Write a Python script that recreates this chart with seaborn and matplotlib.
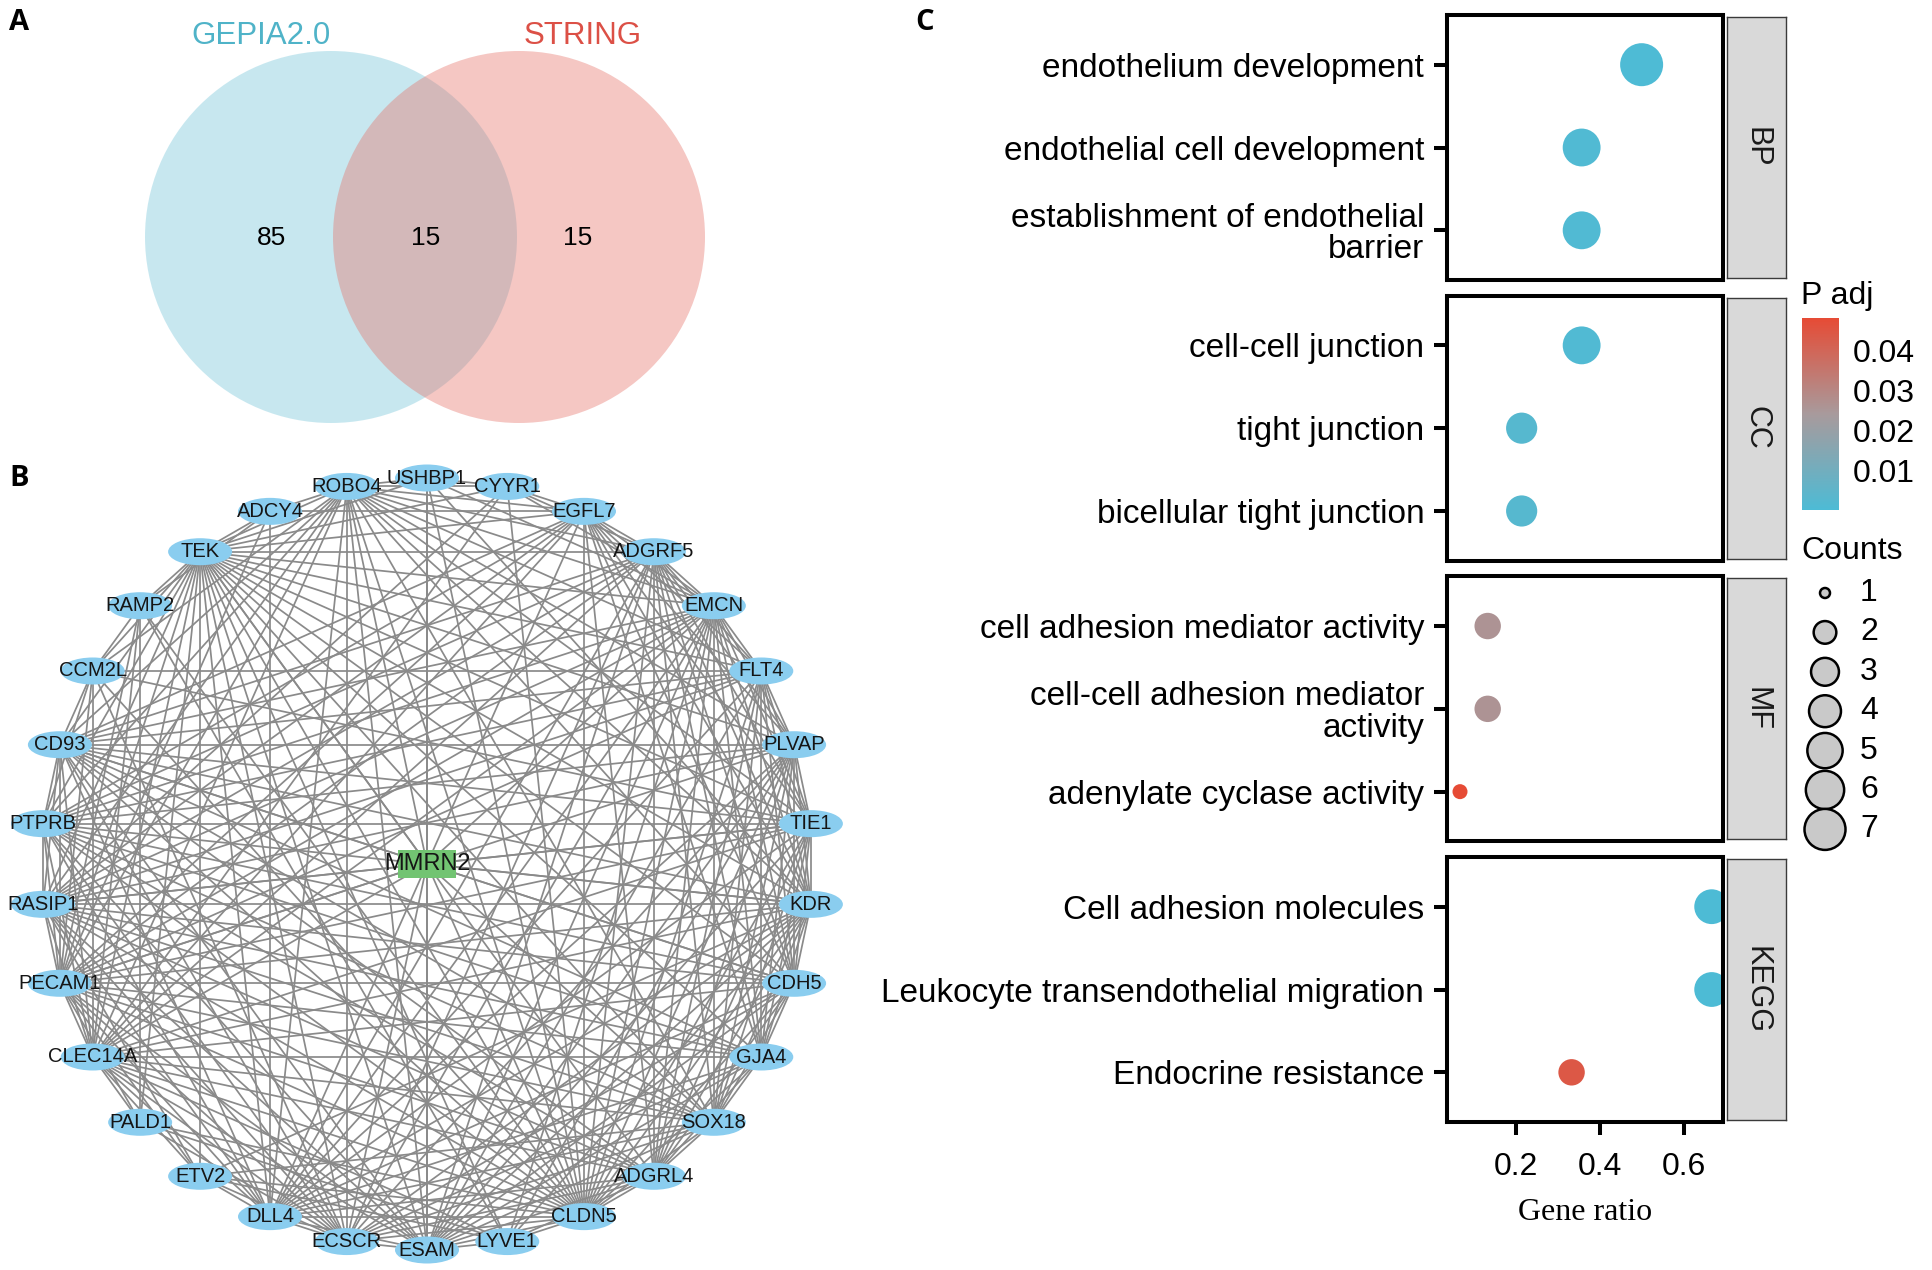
import numpy as np
import pandas as pd
import matplotlib
matplotlib.use('Agg')
import matplotlib.pyplot as plt
import seaborn as sns
from matplotlib.patches import Circle, Ellipse, Rectangle
from matplotlib.collections import LineCollection
from matplotlib.colors import LinearSegmentedColormap, Normalize
from matplotlib.cm import ScalarMappable

# ── DATA ───────────────────────────────────────────────────────
# A: Venn
venn_names = ['GEPIA2.0', 'STRING']
venn_counts = [85, 15, 15]          # GEPIA only, both, STRING only

# B: PPI network (hub + ring genes, counter-clockwise from the top)
hub_gene = 'MMRN2'
ring_genes = ['USHBP1', 'ROBO4', 'ADCY4', 'TEK', 'RAMP2', 'CCM2L', 'CD93', 'PTPRB',
              'RASIP1', 'PECAM1', 'CLEC14A', 'PALD1', 'ETV2', 'DLL4', 'ECSCR', 'ESAM',
              'LYVE1', 'CLDN5', 'ADGRL4', 'SOX18', 'GJA4', 'CDH5', 'KDR', 'TIE1',
              'PLVAP', 'FLT4', 'EMCN', 'ADGRF5', 'EGFL7', 'CYYR1']
links = {
    'TEK': 'ROBO4 USHBP1 CYYR1 EGFL7 ADGRF5 EMCN FLT4 PLVAP TIE1 KDR CDH5 GJA4 SOX18 ADGRL4 '
           'CLDN5 LYVE1 ESAM ECSCR DLL4 ETV2 PALD1 CLEC14A PECAM1 RASIP1 PTPRB CD93 CCM2L RAMP2 ADCY4',
    'ROBO4': 'USHBP1 CYYR1 EGFL7 ADGRF5 EMCN FLT4 PLVAP TIE1 KDR CDH5 SOX18 CLDN5 ESAM ECSCR '
             'DLL4 CLEC14A PECAM1 RASIP1 PTPRB CD93 CCM2L ADCY4',
    'EMCN': 'ADGRF5 EGFL7 CYYR1 USHBP1 FLT4 PLVAP TIE1 KDR CDH5 GJA4 SOX18 ADGRL4 CLDN5 LYVE1 '
            'ESAM ECSCR DLL4 PECAM1 RASIP1 PTPRB CD93 CLEC14A',
    'CLDN5': 'ADGRL4 SOX18 GJA4 CDH5 KDR TIE1 PLVAP FLT4 ADGRF5 EGFL7 CYYR1 USHBP1 ESAM LYVE1 '
             'ECSCR DLL4 ETV2 PALD1 CLEC14A PECAM1 RASIP1 PTPRB CD93 CCM2L RAMP2',
    'PECAM1': 'CDH5 KDR TIE1 PLVAP FLT4 GJA4 SOX18 ADGRL4 ESAM ECSCR DLL4 ETV2 PALD1 CLEC14A '
              'RASIP1 PTPRB CD93 CCM2L RAMP2 ADCY4 EGFL7 ADGRF5',
    'CLEC14A': 'GJA4 SOX18 ADGRL4 CDH5 KDR TIE1 ESAM LYVE1 ECSCR DLL4 ETV2 PALD1 RASIP1 PTPRB '
               'CD93 CCM2L RAMP2 EGFL7 ADGRF5 CYYR1',
    'KDR': 'CDH5 TIE1 PLVAP FLT4 GJA4 SOX18 ADGRL4 ESAM LYVE1 ECSCR DLL4 ETV2 RASIP1 PTPRB CD93 '
           'ADGRF5 EGFL7 USHBP1',
    'CDH5': 'TIE1 PLVAP FLT4 GJA4 SOX18 ESAM ECSCR DLL4 RASIP1 PTPRB CD93 ADGRF5 EGFL7 ADGRL4',
    'TIE1': 'PLVAP FLT4 GJA4 SOX18 ADGRL4 ESAM DLL4 RASIP1 PTPRB CD93 CCM2L EGFL7 ADGRF5',
    'SOX18': 'GJA4 ADGRL4 ESAM ECSCR DLL4 ETV2 FLT4 PLVAP ADGRF5 RASIP1 PTPRB CD93',
    'FLT4': 'PLVAP GJA4 ADGRL4 ESAM DLL4 RASIP1 PTPRB CD93 ADGRF5 EGFL7 CCM2L',
    'ESAM': 'ECSCR DLL4 LYVE1 ADGRL4 GJA4 PLVAP RASIP1 PTPRB CD93 USHBP1 ADGRF5',
    'RASIP1': 'PTPRB CD93 DLL4 ETV2 ECSCR GJA4 ADGRL4 PLVAP ADGRF5 EGFL7 CYYR1',
    'PTPRB': 'CD93 DLL4 ECSCR GJA4 ADGRL4 PLVAP ADGRF5 EGFL7 CCM2L',
    'ADGRF5': 'EGFL7 ADGRL4 GJA4 PLVAP DLL4 ECSCR CD93 CYYR1',
    'ADGRL4': 'GJA4 PLVAP DLL4 ECSCR LYVE1 CD93 EGFL7',
    'GJA4': 'PLVAP DLL4 ECSCR CD93 EGFL7',
    'DLL4': 'ECSCR ETV2 CD93 PLVAP EGFL7 ADCY4',
    'CD93': 'CCM2L PLVAP EGFL7 ECSCR',
    'EGFL7': 'CYYR1 ADCY4 PLVAP',
    'ECSCR': 'ETV2 PALD1 PLVAP CCM2L',
    'LYVE1': 'PLVAP PALD1 ETV2 RAMP2',
    'USHBP1': 'CYYR1 ESAM',
    'ADCY4': 'EGFL7 RAMP2',
    'RAMP2': 'CCM2L PALD1',
    'MMRN2': 'USHBP1 ROBO4 TEK EMCN CLDN5 PECAM1 CLEC14A KDR CDH5 ESAM TIE1 SOX18 ECSCR CD93 RASIP1',
}

# C: enrichment dot plot
terms = ['endothelium development', 'endothelial cell development',
         'establishment of endothelial\nbarrier',
         'cell-cell junction', 'tight junction', 'bicellular tight junction',
         'cell adhesion mediator activity', 'cell-cell adhesion mediator\nactivity',
         'adenylate cyclase activity',
         'Cell adhesion molecules', 'Leukocyte transendothelial migration',
         'Endocrine resistance']
ontology = ['BP'] * 3 + ['CC'] * 3 + ['MF'] * 3 + ['KEGG'] * 3
gene_ratio = [0.500, 0.357, 0.357, 0.357, 0.214, 0.214, 0.133, 0.133, 0.067, 0.667, 0.667, 0.333]
counts = [7, 5, 5, 5, 3, 3, 2, 2, 1, 4, 4, 2]
p_adj = [0.0002, 0.001, 0.001, 0.001, 0.0025, 0.0025, 0.026, 0.026, 0.048, 0.00001, 0.00001, 0.044]
legend_counts = [1, 2, 3, 4, 5, 6, 7]
cbar_ticks = [0.01, 0.02, 0.03, 0.04]

# ── STYLE ─────────────────────────────────────────────────────
sns.set_theme(style='white')
plt.rcParams['font.family'] = ['Liberation Sans', 'DejaVu Sans']
for k in ['text.color', 'axes.labelcolor', 'xtick.color', 'ytick.color']:
    plt.rcParams[k] = 'black'

W, H = 1932, 1270
fig = plt.figure(figsize=(W / 100, H / 100), dpi=100)
base = fig.add_axes([0, 0, 1, 1])
base.axis('off')

for letter, (lx, ly) in zip('ABC', [(19, 22), (19, 478), (925, 22)]):
    base.text(lx, ly, letter, fontsize=21, fontweight='bold', ha='center', va='center',
              family=['Open Sans', 'DejaVu Sans'])

# ── A. VENN ───────────────────────────────────────────────────
r, cy = 186, 237
centers = [331, 519]
for cx, col in zip(centers, ['#75C5D9', '#E6736A']):
    base.add_patch(Circle((cx, cy), r, facecolor=col, alpha=0.4, edgecolor='none', zorder=1))
for name, lx, col in zip(venn_names, [261, 583], ['#4FB3C8', '#DC5046']):
    base.text(lx, 36, name, fontsize=22.5, color=col, ha='center', va='center')
for n, lx in zip(venn_counts, [272, 426, 578]):
    base.text(lx, 238, str(n), fontsize=19, ha='center', va='center')

# ── B. NETWORK ────────────────────────────────────────────────
ncx, ncy, R = 427, 864, 386
ang = np.deg2rad(90 + 360 / len(ring_genes) * np.arange(len(ring_genes)))
pos = {g: (ncx + R * np.cos(a), ncy - R * np.sin(a)) for g, a in zip(ring_genes, ang)}
pos[hub_gene] = (ncx, ncy)

edges = set()
for g, nb in links.items():
    for h in nb.split():
        if h != g:
            edges.add(tuple(sorted((g, h))))
segs = [[pos[a], pos[b]] for a, b in sorted(edges)]
base.add_collection(LineCollection(segs, colors='#8A8A8A', linewidths=1.25, zorder=2))

for g in ring_genes:
    x, y = pos[g]
    base.add_patch(Ellipse((x, y), 64, 27, facecolor='#8ACDEF', edgecolor='none', zorder=3))
    base.text(x, y, g, fontsize=14.5, ha='center', va='center', color='#151515', zorder=4)
base.add_patch(Rectangle((ncx - 29, ncy - 14), 58, 28, facecolor='#72C472', edgecolor='none', zorder=3))
base.text(ncx, ncy, hub_gene, fontsize=17, ha='center', va='center', color='#151515', zorder=4)

# ── C. DOT PLOT ───────────────────────────────────────────────
df = pd.DataFrame({'term': terms, 'ontology': ontology, 'ratio': gene_ratio,
                   'count': counts, 'padj': p_adj})
cmap = LinearSegmentedColormap.from_list('padj', ['#4DBBD5', '#A89A9C', '#E64B35'])
norm = Normalize(df['padj'].min(), df['padj'].max())
dmin, dmax = 15, 43      # dot diameter in px for count 1 and 7
size_map = {c: ((dmin + (dmax - dmin) * np.sqrt((c - 1) / 6)) * 0.72) ** 2 for c in legend_counts}

px_l, px_r = 1447, 1723
st_l, st_r = 1727, 1786
top0, ph, step = 15, 265, 280.67
panels = ['BP', 'CC', 'MF', 'KEGG']
for i, o in enumerate(panels):
    top = top0 + i * step
    ax = fig.add_axes([px_l / W, 1 - (top + ph) / H, (px_r - px_l) / W, ph / H])
    sub = df[df['ontology'] == o]
    sns.scatterplot(data=sub, x='ratio', y='term', hue='padj', palette=cmap, hue_norm=norm,
                    size='count', sizes=size_map, linewidth=0, legend=False, ax=ax)
    ax.set_xlim(0.036, 0.694)
    ax.set_ylim(2.6, -0.6)
    ax.set_yticks([0, 1, 2])
    ax.set_yticklabels(list(sub['term']), fontsize=24, linespacing=1.02)
    ax.tick_params(axis='y', left=True, length=9.4, width=2.9, pad=7, direction='out')
    ax.set_xticks([0.2, 0.4, 0.6])
    ax.set_ylabel('')
    for s in ax.spines.values():
        s.set_linewidth(2.9)
        s.set_color('black')
    if o == 'KEGG':
        ax.set_xticklabels(['0.2', '0.4', '0.6'], fontsize=23)
        ax.tick_params(axis='x', bottom=True, length=9.4, width=2.9, pad=12, direction='out')
        ax.set_xlabel('Gene ratio', fontsize=23, family=['Liberation Serif', 'DejaVu Serif'], labelpad=12)
    else:
        ax.tick_params(axis='x', bottom=False, labelbottom=False)
        ax.set_xlabel('')

    sax = fig.add_axes([st_l / W, 1 - (top + ph - 2) / H, (st_r - st_l) / W, (ph - 4) / H])
    sax.set_facecolor('#D9D9D9')
    sax.set_xticks([])
    sax.set_yticks([])
    for s in sax.spines.values():
        s.set_color('#3A3A3A')
        s.set_linewidth(1)
    sax.text(0.5, 0.5, o, rotation=-90, ha='center', va='center', fontsize=22,
             color='#1A1A1A', transform=sax.transAxes)

# colourbar legend
base.text(1801, 296, 'P adj', fontsize=23, ha='left', va='center')
cax = fig.add_axes([1802 / W, 1 - 510 / H, 37 / W, 192 / H])
cb = fig.colorbar(ScalarMappable(norm=norm, cmap=cmap), cax=cax, ticks=cbar_ticks)
cb.outline.set_visible(False)
cb.ax.set_yticklabels([f'{t:.2f}' for t in cbar_ticks], fontsize=23)
cb.ax.tick_params(axis='y', direction='in', length=7, width=1.5, color='white',
                  left=True, right=True, labelleft=False, labelright=True, pad=10)

# size legend
base.text(1801, 551, 'Counts', fontsize=23, ha='left', va='center')
leg = pd.DataFrame({'x': 1825, 'y': 593 + 39.4 * np.arange(len(legend_counts)),
                    'count': legend_counts})
leg_sizes = {c: ((10 + (41 - 10) * np.sqrt((c - 1) / 6)) * 0.72) ** 2 for c in legend_counts}
sns.scatterplot(data=leg, x='x', y='y', size='count', sizes=leg_sizes, color='#C9C9C9',
                edgecolor='black', linewidth=1.8, legend=False, ax=base, zorder=5)
for c, y in zip(leg['count'], leg['y']):
    base.text(1860, y, str(c), fontsize=23, ha='left', va='center')

base.set_xlim(0, W)
base.set_ylim(H, 0)
base.axis('off')

fig.savefig('out.png', dpi=100)
